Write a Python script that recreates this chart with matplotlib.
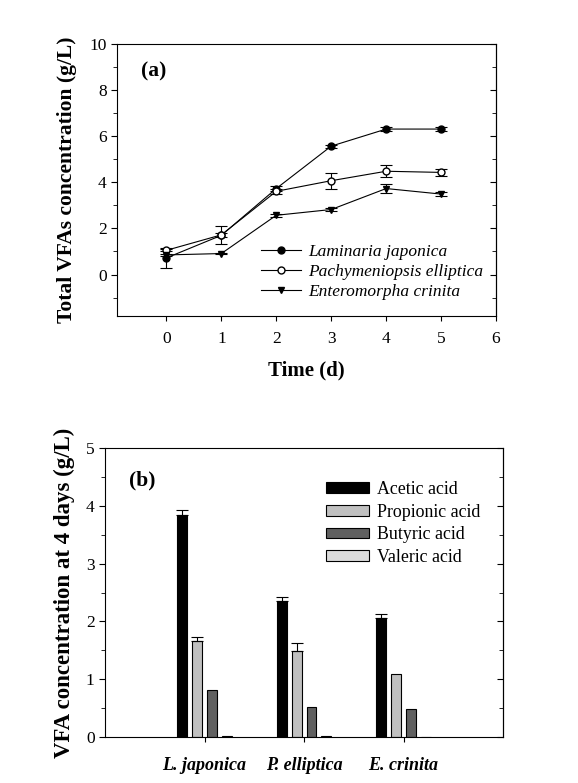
import matplotlib
matplotlib.use("Agg")
import numpy as np
from matplotlib import pyplot as plt
from matplotlib.patches import Patch
from matplotlib.lines import Line2D

# panel (a): total VFAs over time
days = [0, 1, 2, 3, 4, 5]
lam = [0.72, 1.70, 3.73, 5.57, 6.31, 6.31]
lam_err = [0.45, 0.08, 0.10, 0.06, 0.08, 0.08]
pach = [1.05, 1.72, 3.61, 4.07, 4.48, 4.43]
pach_err = [0.05, 0.38, 0.12, 0.35, 0.25, 0.15]
ent = [0.85, 0.91, 2.57, 2.82, 3.73, 3.49]
ent_err = [0.05, 0.04, 0.06, 0.06, 0.18, 0.10]
series_names = ["Laminaria japonica", "Pachymeniopsis elliptica", "Enteromorpha crinita"]

# panel (b): VFA composition at day 4
species = ["L. japonica", "P. elliptica", "E. crinita"]
acids = ["Acetic acid", "Propionic acid", "Butyric acid", "Valeric acid"]
acetic = [3.84, 2.35, 2.06]
acetic_err = [0.09, 0.07, 0.07]
propionic = [1.66, 1.49, 1.09]
propionic_err = [0.07, 0.13, 0.0]
butyric = [0.82, 0.52, 0.49]
butyric_err = [0.0, 0.0, 0.0]
valeric = [0.02, 0.02, 0.0]
valeric_err = [0.0, 0.0, 0.0]

plt.rcParams["font.family"] = ["Liberation Serif", "DejaVu Serif"]
plt.rcParams["mathtext.fontset"] = "stix"

fig = plt.figure(figsize=(5.78, 7.83), dpi=100)


def right_ticks(ax, major, minor):
    # right-hand ticks point inward, left-hand ones outward
    sec = ax.secondary_yaxis("right")
    sec.set_yticks(major)
    sec.set_yticks(minor, minor=True)
    sec.tick_params(which="both", direction="in", labelright=False)
    sec.tick_params(which="major", length=4)
    sec.tick_params(which="minor", length=3)
    return sec


# ---------- (a) ----------
ax1 = fig.add_axes([0.2024, 0.5964, 0.6557, 0.3474])
ebkw = dict(color="black", lw=0.8, capsize=4, elinewidth=0.8, capthick=0.8, ms=5)
ax1.errorbar(days, lam, yerr=lam_err, marker="o", mfc="black", mec="black", **ebkw)
ax1.errorbar(days, pach, yerr=pach_err, marker="o", mfc="white", mec="black", **ebkw)
ax1.errorbar(days, ent, yerr=ent_err, marker="v", mfc="black", mec="black", **ebkw)

ax1.set_xlim(-0.9, 6)
ax1.set_ylim(-1.8, 10)
ax1.set_xticks(range(0, 7))
ax1.set_yticks(range(0, 11, 2))
ax1.set_yticks([-1, 1, 3, 5, 7, 9], minor=True)
ax1.tick_params(axis="y", which="both", direction="out", labelsize=12.5)
ax1.tick_params(axis="x", direction="out", labelsize=12.5, pad=7)
ax1.tick_params(axis="y", which="major", length=4)
ax1.tick_params(axis="y", which="minor", length=3)
right_ticks(ax1, range(0, 11, 2), [-1, 1, 3, 5, 7, 9])
ax1.set_xlabel("Time (d)", fontsize=15, fontweight="bold", labelpad=10)
ax1.set_ylabel("Total VFAs concentration (g/L)", fontsize=15.5, fontweight="bold", labelpad=9)
ax1.text(0.064, 0.90, "(a)", transform=ax1.transAxes, fontsize=15.5, fontweight="bold", va="center")

handles = [
    Line2D([], [], color="black", lw=0.8, marker="o", mfc="black", mec="black", ms=5),
    Line2D([], [], color="black", lw=0.8, marker="o", mfc="white", mec="black", ms=5),
    Line2D([], [], color="black", lw=0.8, marker="v", mfc="black", mec="black", ms=5),
]
ax1.legend(handles, series_names, loc="lower left", bbox_to_anchor=(0.34, 0.0),
           frameon=False, handlelength=2.3, handletextpad=0.4, labelspacing=0.22,
           prop={"style": "italic", "size": 12.5})

# ---------- (b) ----------
ax2 = fig.add_axes([0.1817, 0.0587, 0.6886, 0.3691])
x = np.arange(1, len(species) + 1)
width = 0.1
offsets = [-0.225, -0.075, 0.075, 0.225]
colors = ["#000000", "#c0c0c0", "#606060", "#dcdcdc"]
values = [acetic, propionic, butyric, valeric]
errs = [acetic_err, propionic_err, butyric_err, valeric_err]
for off, col, val, err, name in zip(offsets, colors, values, errs, acids):
    ax2.bar(x + off, val, width, color=col, edgecolor="black", linewidth=0.8, label=name)
    e = np.array(err)
    mask = e > 0
    ax2.errorbar((x + off)[mask], np.array(val)[mask], yerr=[np.zeros(mask.sum()), e[mask]],
                 fmt="none", ecolor="black", elinewidth=0.8, capsize=4, capthick=0.8)

ax2.set_xlim(0, 4)
ax2.set_ylim(0, 5)
ax2.set_xticks(x)
ax2.set_xticklabels(species, fontsize=13, fontweight="bold", style="italic")
ax2.set_yticks(range(0, 6))
ax2.set_yticks(np.arange(0.5, 5, 1.0), minor=True)
ax2.tick_params(axis="y", which="both", direction="out", labelsize=12.5)
ax2.tick_params(axis="y", which="major", length=4)
ax2.tick_params(axis="y", which="minor", length=3)
ax2.tick_params(axis="x", direction="out", pad=11)
right_ticks(ax2, range(0, 6), np.arange(0.5, 5, 1.0))
ax2.set_ylabel("VFA concentration at 4 days (g/L)", fontsize=16.5, fontweight="bold", labelpad=8)
ax2.text(0.060, 0.889, "(b)", transform=ax2.transAxes, fontsize=15.5, fontweight="bold", va="center")

patches = [Patch(facecolor=c, edgecolor="black", linewidth=0.8) for c in colors]
ax2.legend(patches, acids, loc="upper left", bbox_to_anchor=(0.515, 0.942), frameon=False,
           handlelength=2.4, handleheight=0.55, handletextpad=0.45, labelspacing=0.32,
           prop={"size": 12.9})

fig.savefig("out.png", dpi=100)
